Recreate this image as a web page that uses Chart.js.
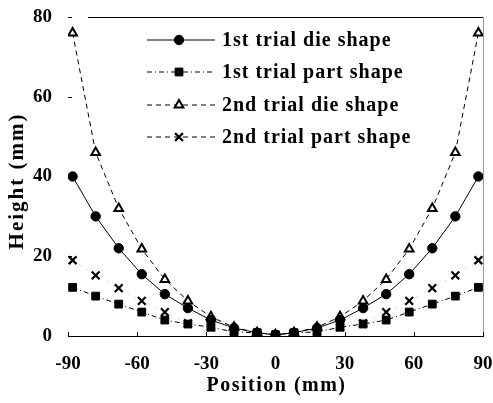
<!DOCTYPE html>
<html>
<head>
<meta charset="utf-8">
<script src="https://cdn.jsdelivr.net/npm/chart.js@4/dist/chart.umd.min.js"></script>
<style>
  html, body { margin: 0; padding: 0; background: #fff; }
  #wrap { width: 493px; height: 403px; }
</style>
</head>
<body>
<div id="wrap"><canvas id="shapeChart" width="493" height="403"></canvas></div>
<script>
// positions along the die (mm)
var positions = [-88, -78, -68, -58, -48, -38, -28, -18, -8, 0, 8, 18, 28, 38, 48, 58, 68, 78, 88];

// heights (mm)
var dieTrial1  = [40, 30, 22, 15.5, 10.5, 7, 4, 2, 0.8, 0.3, 0.8, 2, 4, 7, 10.5, 15.5, 22, 30, 40];
var partTrial1 = [12.2, 10, 8, 6, 4, 3, 2.2, 1, 0.8, 0.3, 0.8, 1, 2.2, 3, 4, 6, 8, 10, 12.2];
var dieTrial2  = [76, 46, 32, 21.8, 14.2, 8.8, 4.8, 2.2, 0.8, 0.3, 0.8, 2.2, 4.8, 8.8, 14.2, 21.8, 32, 46, 76];
var partTrial2 = [19, 15.2, 12, 8.8, 6, 3.2, 2.2, 1.2, 0.8, 0.3, 0.8, 1.2, 2.2, 3.2, 6, 8.8, 12, 15.2, 19];

var xTicks = [-90, -60, -30, 0, 30, 60, 90];
var yTicks = [0, 20, 40, 60, 80];

var seriesNames = ['1st trial die shape', '1st trial part shape', '2nd trial die shape', '2nd trial part shape'];
var xTitle = 'Position (mm)';
var yTitle = 'Height (mm)';

var FONT = '"Liberation Serif", "Times New Roman", serif';

function toPoints(ys) {
    return positions.map(function(x, i) { return { x: x, y: ys[i] }; });
}

// legend sample dash for each series (line in the plot can differ)
var legendDash = [[], [5, 3, 1, 3], [5, 4], [5, 4]];

// frame, inner ticks, axis titles and a legend with line + marker samples
var framePlugin = {
    id: 'frame',
    afterDraw: function(chart) {
        var ctx = chart.ctx;
        var a = chart.chartArea;
        var xs = chart.scales.x, ys = chart.scales.y;
        ctx.save();
        ctx.strokeStyle = '#000';
        ctx.lineWidth = 1;
        ctx.beginPath();
        ctx.moveTo(a.left + 20, a.top + 0.5);
        ctx.lineTo(a.right, a.top + 0.5);
        ctx.stroke();
        ctx.strokeStyle = '#999';
        ctx.beginPath();
        ctx.moveTo(a.right + 0.5, a.top);
        ctx.lineTo(a.right + 0.5, a.bottom);
        ctx.stroke();
        ctx.strokeStyle = '#000';
        ctx.beginPath();
        ctx.moveTo(a.left, a.bottom + 0.5);
        ctx.lineTo(a.right + 1, a.bottom + 0.5);
        ctx.stroke();
        xTicks.forEach(function(t) {
            var px = Math.round(xs.getPixelForValue(t)) + 0.5;
            ctx.beginPath();
            ctx.moveTo(px, a.bottom);
            ctx.lineTo(px, a.bottom - 4);
            ctx.stroke();
        });
        yTicks.forEach(function(t) {
            var py = Math.round(ys.getPixelForValue(t)) + 0.5;
            ctx.beginPath();
            ctx.moveTo(a.left, py);
            ctx.lineTo(a.left + 4, py);
            ctx.stroke();
        });

        ctx.fillStyle = '#000';
        ctx.textBaseline = 'middle';

        // axis titles
        ctx.textAlign = 'center';
        ctx.font = 'bold 20px ' + FONT;
        ctx.letterSpacing = '1.5px';
        ctx.fillText(xTitle, (a.left + a.right) / 2 + 1, 386);
        ctx.save();
        ctx.translate(18, 181);
        ctx.rotate(-Math.PI / 2);
        ctx.font = 'bold 21px ' + FONT;
        ctx.letterSpacing = '2px';
        ctx.fillText(yTitle, 0, 0);
        ctx.restore();

        // legend
        ctx.font = 'bold 20px ' + FONT;
        ctx.letterSpacing = '1px';
        ctx.textAlign = 'left';
        var rowY = [40, 72, 105, 137];
        chart.data.datasets.forEach(function(ds, i) {
            var y = rowY[i];
            ctx.setLineDash(legendDash[i]);
            ctx.strokeStyle = '#000';
            ctx.lineWidth = 1;
            ctx.beginPath();
            ctx.moveTo(147, y);
            ctx.lineTo(215, y);
            ctx.stroke();
            ctx.setLineDash([]);
            ctx.fillStyle = ds.pointBackgroundColor;
            ctx.strokeStyle = '#000';
            ctx.lineWidth = ds.pointBorderWidth;
            Chart.helpers.drawPoint(ctx, {
                pointStyle: ds.pointStyle,
                radius: ds.pointRadius,
                rotation: 0,
                borderWidth: ds.pointBorderWidth
            }, 179, y);
            ctx.fillStyle = '#000';
            ctx.fillText(seriesNames[i], 222, y + 1);
        });
        ctx.letterSpacing = '0px';
        ctx.restore();
    }
};

var ctx = document.getElementById('shapeChart').getContext('2d');
var myChart = new Chart(ctx, {
    type: 'line',
    data: {
        datasets: [{
            label: seriesNames[0],
            data: toPoints(dieTrial1),
            borderColor: '#000',
            borderWidth: 1,
            pointStyle: 'circle',
            pointRadius: 4.7,
            pointBackgroundColor: '#000',
            pointBorderColor: '#000',
            pointBorderWidth: 1
        }, {
            label: seriesNames[1],
            data: toPoints(partTrial1),
            borderColor: '#000',
            borderWidth: 1,
            borderDash: [5, 3, 1, 3],
            pointStyle: 'rect',
            pointRadius: 5.5,
            pointBackgroundColor: '#000',
            pointBorderColor: '#000',
            pointBorderWidth: 1
        }, {
            label: seriesNames[2],
            data: toPoints(dieTrial2),
            borderColor: '#000',
            borderWidth: 1,
            borderDash: [5, 4],
            pointStyle: 'triangle',
            pointRadius: 5,
            pointBackgroundColor: '#fff',
            pointBorderColor: '#000',
            pointBorderWidth: 2
        }, {
            label: seriesNames[3],
            data: toPoints(partTrial2),
            borderColor: '#d4d4d4',
            borderWidth: 1,
            borderDash: [2, 6],
            pointStyle: 'crossRot',
            pointRadius: 5.5,
            pointBackgroundColor: '#000',
            pointBorderColor: '#000',
            pointBorderWidth: 2.2
        }]
    },
    options: {
        responsive: false,
        animation: false,
        events: [],
        layout: { autoPadding: false, padding: { top: 17, right: 10, left: 0, bottom: 0 } },
        elements: { line: { tension: 0 } },
        plugins: { legend: { display: false }, tooltip: { enabled: false } },
        scales: {
            x: {
                type: 'linear',
                min: -90,
                max: 90,
                afterBuildTicks: function(axis) {
                    axis.ticks = xTicks.map(function(v) { return { value: v }; });
                },
                afterFit: function(axis) {
                    axis.height = 67;
                    axis.paddingLeft = 0;
                    axis.paddingRight = 0;
                },
                grid: { display: false, drawTicks: false },
                border: { display: false },
                ticks: {
                    color: '#000',
                    padding: 17,
                    maxRotation: 0,
                    font: { family: FONT, size: 19, weight: 'bold' }
                }
            },
            y: {
                min: 0,
                max: 80,
                afterBuildTicks: function(axis) {
                    axis.ticks = yTicks.map(function(v) { return { value: v }; });
                },
                afterFit: function(axis) {
                    axis.width = 68;
                    axis.paddingTop = 0;
                    axis.paddingBottom = 0;
                },
                grid: { display: false, drawTicks: false },
                border: { display: false },
                ticks: {
                    color: '#000',
                    padding: 16,
                    font: { family: FONT, size: 19, weight: 'bold' }
                }
            }
        }
    },
    plugins: [framePlugin]
});
</script>
</body>
</html>
